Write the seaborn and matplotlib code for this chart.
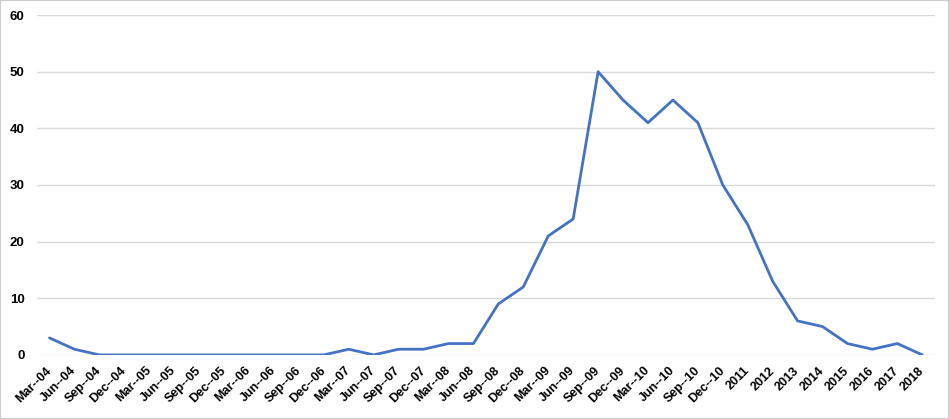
import matplotlib

matplotlib.use("Agg")
import matplotlib.pyplot as plt
import numpy as np
import pandas as pd
import seaborn as sns

sns.set_theme(style="white")
plt.rcParams["font.family"] = ["Liberation Sans", "DejaVu Sans"]

periodos = [
    "Mar--04", "Jun--04", "Sep--04", "Dec--04",
    "Mar--05", "Jun--05", "Sep--05", "Dec--05",
    "Mar--06", "Jun--06", "Sep--06", "Dec--06",
    "Mar--07", "Jun--07", "Sep--07", "Dec--07",
    "Mar--08", "Jun--08", "Sep--08", "Dec--08",
    "Mar--09", "Jun--09", "Sep--09", "Dec--09",
    "Mar--10", "Jun--10", "Sep--10", "Dec--10",
    "2011", "2012", "2013", "2014", "2015", "2016", "2017", "2018",
]
valores = [
    3, 1, 0, 0,
    0, 0, 0, 0,
    0, 0, 0, 0,
    1, 0, 1, 1,
    2, 2, 9, 12,
    21, 24, 50, 45,
    41, 45, 41, 30,
    23, 13, 6, 5, 2, 1, 2, 0,
]
y_ticks = [0, 10, 20, 30, 40, 50, 60]

df = pd.DataFrame({"pos": np.arange(len(periodos)), "valor": valores})

fig = plt.figure(figsize=(9.49, 4.19), dpi=100)
ax = fig.add_axes([0.039, 0.153, 0.946, 0.811])

sns.lineplot(data=df, x="pos", y="valor", ax=ax, color="#4472C4",
             linewidth=2.0)

ax.set_xlim(-0.5, len(periodos) - 0.5)
ax.set_ylim(0, 60)
ax.set_yticks(y_ticks)
ax.set_xticks(df["pos"])
ax.set_xticklabels(periodos, rotation=45, ha="right", va="center",
                   rotation_mode="anchor", fontsize=9, fontweight="bold",
                   color="black")
ax.set_yticklabels([str(t) for t in y_ticks], fontsize=9.5, fontweight="bold",
                   color="black")
ax.tick_params(axis="x", length=0, pad=10)
ax.tick_params(axis="y", length=0, pad=9)
ax.yaxis.grid(True, color="#d9d9d9", linewidth=1)
ax.set_axisbelow(True)
ax.set_xlabel("")
ax.set_ylabel("")
for s in ax.spines.values():
    s.set_visible(False)

fig.patches.append(plt.Rectangle((0, 0), 1, 1, transform=fig.transFigure,
                                 fill=False, edgecolor="#cccccc", linewidth=1.5))

fig.savefig("out.png", dpi=100)
